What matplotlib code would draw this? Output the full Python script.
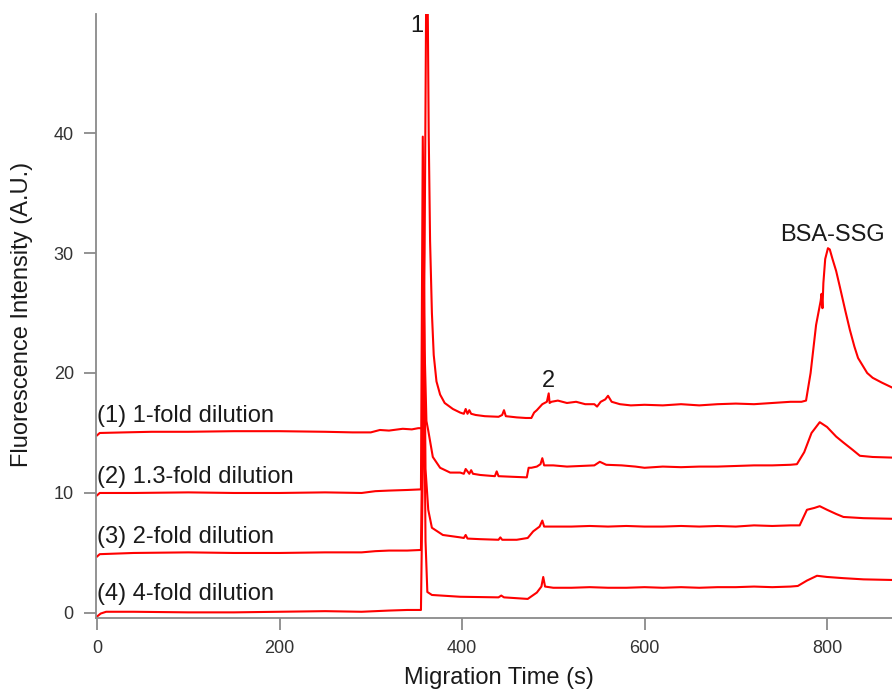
import numpy as np
import matplotlib.pyplot as plt

plt.rcParams["font.family"] = ["Liberation Sans", "DejaVu Sans"]

# trace (1) 1-fold dilution
t1 = [0, 3, 30, 60, 100, 150, 200, 250, 280, 300, 310, 320, 335, 345, 352, 357, 359, 361, 362, 363.5,
      365, 367, 369, 372, 376, 381, 390, 398, 402, 404, 406, 408, 410, 415, 425, 440, 444, 446, 448, 460,
      470, 476, 479, 482, 488, 493, 495, 496, 498, 505, 515, 525, 535, 545, 548, 552, 557, 560, 564, 573,
      585, 600, 620, 640, 660, 680, 700, 720, 740, 760, 772, 777, 782, 788, 793, 794, 795, 796, 798, 801,
      803, 806, 810, 814, 820, 825, 830, 834, 840, 844, 850, 860, 871]
y1 = [14.8, 15.0, 15.05, 15.1, 15.1, 15.15, 15.15, 15.1, 15.05, 15.05, 15.25, 15.2, 15.35, 15.3, 15.4, 15.4, 30.0, 55.0, 55.0, 40.0,
      31.0, 25.0, 21.5, 19.3, 18.2, 17.5, 17.0, 16.7, 16.6, 17.0, 16.6, 16.9, 16.6, 16.5, 16.4, 16.35, 16.5, 16.9, 16.4, 16.3,
      16.25, 16.25, 16.7, 16.9, 17.4, 17.6, 18.3, 17.5, 17.6, 17.7, 17.5, 17.6, 17.4, 17.4, 17.2, 17.6, 17.8, 18.1, 17.6, 17.4,
      17.3, 17.35, 17.3, 17.4, 17.3, 17.4, 17.45, 17.4, 17.5, 17.6, 17.6, 17.7, 20.0, 24.0, 26.0, 26.6, 25.4, 27.5, 29.5, 30.4,
      30.3, 29.5, 28.5, 27.2, 25.2, 23.6, 22.2, 21.25, 20.5, 20.0, 19.6, 19.2, 18.8]

# trace (2) 1.3-fold dilution
t2 = [0, 3, 40, 100, 150, 200, 250, 290, 305, 320, 340, 355, 357, 359, 361, 363, 368, 376, 387, 398,
      402, 404, 408, 410, 412, 420, 436, 438, 440, 455, 471, 473, 476, 482, 486, 488, 490, 500, 515, 530,
      545, 551, 558, 575, 590, 600, 620, 640, 660, 680, 700, 720, 740, 760, 767, 775, 783, 792, 800, 810,
      818, 828, 836, 850, 871]
y2 = [9.8, 10.0, 10.0, 10.05, 10.0, 10.0, 10.05, 10.0, 10.15, 10.2, 10.25, 10.3, 39.7, 22.0, 16.0, 15.2, 13.0, 12.1, 11.7, 11.7,
      11.6, 12.0, 11.6, 11.9, 11.6, 11.5, 11.4, 11.8, 11.4, 11.35, 11.3, 12.1, 12.1, 12.2, 12.4, 12.9, 12.3, 12.3, 12.2, 12.25,
      12.3, 12.6, 12.35, 12.3, 12.2, 12.1, 12.2, 12.15, 12.2, 12.2, 12.25, 12.3, 12.3, 12.35, 12.4, 13.4, 15.0, 15.9, 15.5, 14.7,
      14.2, 13.6, 13.1, 13.0, 12.95]

# trace (3) 2-fold dilution
t3 = [0, 3, 40, 100, 150, 200, 250, 290, 305, 320, 340, 355, 357, 358, 360, 363, 367, 379, 398, 402,
      404, 406, 420, 440, 442, 444, 460, 472, 478, 485, 488, 490, 500, 520, 540, 560, 580, 600, 620, 640,
      660, 680, 700, 720, 740, 760, 770, 778, 786, 792, 800, 810, 818, 840, 871]
y3 = [4.7, 4.9, 5.0, 5.05, 5.0, 5.0, 5.05, 5.05, 5.15, 5.2, 5.2, 5.25, 18.0, 30.0, 12.0, 8.6, 7.1, 6.5, 6.3, 6.25,
      6.5, 6.2, 6.15, 6.1, 6.3, 6.1, 6.1, 6.25, 6.8, 7.2, 7.7, 7.2, 7.2, 7.2, 7.25, 7.2, 7.25, 7.2, 7.2, 7.25,
      7.2, 7.25, 7.2, 7.3, 7.25, 7.3, 7.3, 8.6, 8.75, 8.9, 8.6, 8.25, 8.0, 7.9, 7.85]

# trace (4) 4-fold dilution
t4 = [0, 4, 10, 40, 100, 150, 200, 250, 290, 305, 320, 340, 355, 357, 358, 360, 362, 367, 398, 440,
      443, 446, 472, 482, 487, 489, 491, 500, 520, 540, 560, 580, 600, 620, 640, 660, 680, 700, 720, 740,
      760, 768, 778, 789, 800, 818, 840, 871]
y4 = [-0.3, -0.05, 0.1, 0.1, 0.05, 0.05, 0.1, 0.15, 0.1, 0.15, 0.2, 0.25, 0.25, 12.0, 24.0, 6.0, 1.75, 1.5, 1.35, 1.3,
      1.45, 1.3, 1.17, 1.7, 2.2, 3.0, 2.2, 2.1, 2.1, 2.15, 2.1, 2.1, 2.15, 2.1, 2.15, 2.1, 2.15, 2.15, 2.2, 2.15,
      2.2, 2.25, 2.7, 3.1, 3.0, 2.9, 2.8, 2.75]

trace_labels = ["(1) 1-fold dilution", "(2) 1.3-fold dilution", "(3) 2-fold dilution", "(4) 4-fold dilution"]
label_y = [15.9, 10.8, 5.86, 1.08]

peak_labels = ["1", "2", "BSA-SSG"]
peak_x = [350, 495, 806]
peak_y = [48.4, 18.8, 31.0]

x_ticks = [0, 200, 400, 600, 800]
y_ticks = [0, 10, 20, 30, 40]

_gray = "#8a8a8a"

fig = plt.figure(figsize=(8.92, 6.94), dpi=100)
ax = fig.add_axes([96 / 892, 1 - 618 / 694, 1 - 96 / 892, (618 - 14) / 694])

for _t, _y in [(t1, y1), (t2, y2), (t3, y3), (t4, y4)]:
    ax.plot(_t, _y, color="#ff0000", lw=1.5, solid_joinstyle="round")

for _txt, _yy in zip(trace_labels, label_y):
    ax.text(0, _yy, _txt, ha="left", va="baseline", fontsize=17, color="#1a1a1a")

for _txt, _xx, _yy in zip(peak_labels, peak_x, peak_y):
    ax.text(_xx, _yy, _txt, ha="center", va="baseline", fontsize=17, color="#1a1a1a")

ax.set_xlim(-1.1, 871.2)
ax.set_ylim(-0.42, 49.92)
ax.set_xticks(x_ticks)
ax.set_yticks(y_ticks)

for _s in ["top", "right"]:
    ax.spines[_s].set_visible(False)
for _s in ["left", "bottom"]:
    ax.spines[_s].set_color(_gray)
    ax.spines[_s].set_linewidth(1.3)

ax.tick_params(axis="both", direction="out", color=_gray, width=1.3, labelsize=13, labelcolor="#333333")
ax.tick_params(axis="y", length=9, pad=7)
ax.tick_params(axis="x", length=8.5, pad=7)

fig.text(499 / 892, 1 - 678 / 694, "Migration Time (s)", ha="center", va="center", fontsize=17, color="#1a1a1a")
fig.text(22 / 892, 1 - 314 / 694, "Fluorescence Intensity (A.U.)", ha="center", va="center",
         rotation=90, fontsize=17, color="#1a1a1a")

plt.savefig("out.png", dpi=100)
